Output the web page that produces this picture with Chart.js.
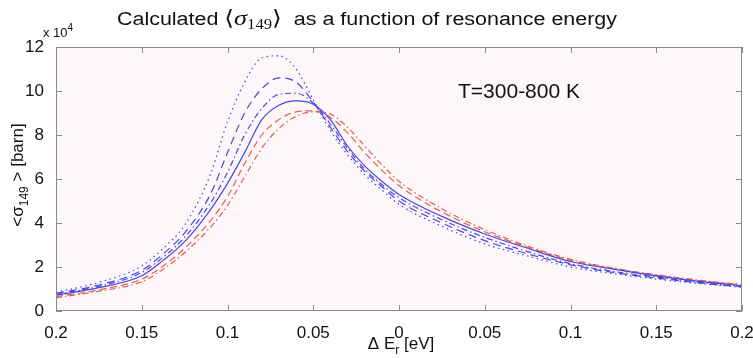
<!DOCTYPE html>
<html>
<head>
<meta charset="utf-8">
<script src="https://cdn.jsdelivr.net/npm/chart.js@4.4.1/dist/chart.umd.min.js"></script>
<style>
  html, body { margin: 0; padding: 0; background: #ffffff; }
  #wrap { width: 753px; height: 358px; position: relative; }
</style>
</head>
<body>
<div id="wrap"><canvas id="c" width="753" height="358"></canvas></div>
<script>
// ---- data (x in eV, y in units of 1e4 barn) ----
const dE = [-0.2, -0.175, -0.15, -0.1375, -0.125, -0.11, -0.1, -0.09, -0.08, -0.07, -0.06, -0.05, -0.04, -0.03, -0.02, -0.01, 0, 0.025, 0.05, 0.075, 0.1, 0.125, 0.15, 0.175, 0.2];
const sigDotted  = [0.85, 1.3, 2.05, 2.85, 3.9, 6.2, 8.6, 10.4, 11.5, 11.6, 11.0, 9.6, 8.2, 7.1, 6.2, 5.5, 4.85, 3.85, 3.05, 2.5, 2.0, 1.7, 1.45, 1.25, 1.08];
const sigDashA   = [0.8, 1.18, 1.85, 2.6, 3.55, 5.3, 7.2, 9.0, 10.1, 10.6, 10.4, 9.5, 8.35, 7.25, 6.35, 5.65, 5.0, 4.0, 3.2, 2.6, 2.1, 1.75, 1.5, 1.28, 1.1];
const sigDashB   = [0.76, 1.12, 1.75, 2.45, 3.35, 4.9, 6.3, 8.0, 9.2, 9.85, 9.9, 9.45, 8.5, 7.4, 6.45, 5.75, 5.15, 4.15, 3.35, 2.7, 2.15, 1.8, 1.55, 1.3, 1.12];
const sigSolid   = [0.72, 1.06, 1.6, 2.3, 3.15, 4.6, 5.8, 7.2, 8.7, 9.35, 9.55, 9.4, 8.7, 7.5, 6.6, 5.9, 5.3, 4.3, 3.5, 2.85, 2.25, 1.9, 1.6, 1.35, 1.15];
const sigRedDash = [0.65, 0.96, 1.45, 2.05, 2.85, 4.1, 5.2, 6.7, 8.0, 8.7, 9.05, 9.1, 8.8, 8.1, 7.2, 6.4, 5.7, 4.5, 3.6, 2.9, 2.3, 1.92, 1.62, 1.38, 1.18];
const sigRedDot  = [0.6, 0.9, 1.33, 1.9, 2.65, 3.8, 4.8, 6.1, 7.4, 8.3, 8.85, 9.05, 8.95, 8.35, 7.5, 6.65, 5.9, 4.65, 3.7, 2.95, 2.35, 1.95, 1.65, 1.4, 1.2];
const xTicks = [-0.2, -0.15, -0.1, -0.05, 0, 0.05, 0.1, 0.15, 0.2];
const xTickLabels = ['0.2', '0.15', '0.1', '0.05', '0', '0.05', '0.1', '0.15', '0.2'];
const yTicks = [0, 2, 4, 6, 8, 10, 12];

const BLUE = '#4646e0';
const RED = '#e2604c';

function pts(arr) { return dE.map((x, i) => ({ x: x, y: arr[i] })); }
function ds(arr, color, dash, w) {
  return { data: pts(arr), borderColor: color, borderWidth: w || 1.2, borderDash: dash,
           pointRadius: 0, fill: false, cubicInterpolationMode: 'monotone' };
}

const SANS = '"Liberation Sans", Arial, sans-serif';
const SERIF = '"Liberation Serif", "DejaVu Serif", serif';

function drawRuns(ctx, runs, x, y) {
  let cx = x;
  for (const r of runs) {
    ctx.font = r.font;
    ctx.fillText(r.t, cx, y + (r.dy || 0));
    cx += ctx.measureText(r.t).width;
  }
  return cx - x;
}
function runsWidth(ctx, runs) {
  let w = 0;
  for (const r of runs) { ctx.font = r.font; w += ctx.measureText(r.t).width; }
  return w;
}

const decor = {
  id: 'decor',
  beforeDraw(chart) {
    const { ctx, chartArea: a } = chart;
    ctx.save();
    ctx.fillStyle = '#fdf7fa';
    ctx.fillRect(a.left, a.top, a.right - a.left, a.bottom - a.top);
    ctx.restore();
  },
  afterDraw(chart) {
    const { ctx, chartArea: a } = chart;
    const xs = chart.scales.x, ys = chart.scales.y;
    ctx.save();
    // box
    ctx.strokeStyle = '#8a8a8a';
    ctx.lineWidth = 1;
    ctx.strokeRect(a.left + 0.5, a.top + 0.5, a.right - a.left - 1, a.bottom - a.top - 1);
    // inward ticks
    ctx.beginPath();
    for (const v of xTicks) {
      const px = Math.round(xs.getPixelForValue(v)) + 0.5;
      ctx.moveTo(px, a.bottom); ctx.lineTo(px, a.bottom - 6);
      ctx.moveTo(px, a.top); ctx.lineTo(px, a.top + 6);
    }
    for (const v of yTicks) {
      const py = Math.round(ys.getPixelForValue(v)) + 0.5;
      ctx.moveTo(a.left, py); ctx.lineTo(a.left + 6, py);
      ctx.moveTo(a.right, py); ctx.lineTo(a.right - 6, py);
    }
    ctx.stroke();

    ctx.fillStyle = '#111';
    ctx.textBaseline = 'alphabetic';
    // title, stretched horizontally to the reference span
    const title = [
      { t: 'Calculated ', font: '18px ' + SANS },
      { t: '\u27E8', font: '21px ' + SERIF },
      { t: '\u03C3', font: 'italic 22px ' + SERIF },
      { t: '149', font: '14px ' + SERIF, dy: 4 },
      { t: '\u27E9', font: '21px ' + SERIF },
      { t: '  as a function of resonance energy', font: '18px ' + SANS }
    ];
    const tw = runsWidth(ctx, title);
    ctx.save();
    ctx.translate(117, 25);
    ctx.scale(500 / tw, 1);
    drawRuns(ctx, title, 0, 0);
    ctx.restore();
    // x 10^4
    drawRuns(ctx, [{ t: 'x 10', font: '13px ' + SANS }, { t: '4', font: '10px ' + SANS, dy: -6 }], 43, 37);
    // annotation
    ctx.font = '21px ' + SANS;
    ctx.fillText('T=300-800 K', 458, 98);
    // x label
    const xl = [
      { t: '\u0394 E', font: '17px ' + SANS },
      { t: 'r', font: '12px ' + SANS, dy: 5 },
      { t: ' [eV]', font: '17px ' + SANS }
    ];
    const xw = runsWidth(ctx, xl);
    drawRuns(ctx, xl, 401 - xw / 2, 349);
    // y label (rotated)
    const yl = [
      { t: '<\u03C3', font: '17px ' + SANS },
      { t: '149', font: '12px ' + SANS, dy: 5 },
      { t: ' > [barn]', font: '17px ' + SANS }
    ];
    const yw = runsWidth(ctx, yl);
    ctx.translate(23, 175);
    ctx.rotate(-Math.PI / 2);
    drawRuns(ctx, yl, -yw / 2, 0);
    ctx.restore();
  }
};

new Chart(document.getElementById('c'), {
  type: 'line',
  data: {
    datasets: [
      ds(sigDotted, BLUE, [1.5, 3.5]),
      ds(sigDashA, BLUE, [8, 5]),
      ds(sigDashB, BLUE, [6, 3, 1.5, 3]),
      ds(sigSolid, BLUE, []),
      ds(sigRedDash, RED, [7, 4]),
      ds(sigRedDot, RED, [6, 3, 1.5, 3])
    ]
  },
  options: {
    responsive: false,
    animation: false,
    devicePixelRatio: 1,
    layout: { padding: { left: 0, top: 47, right: 11, bottom: 0 } },
    plugins: { legend: { display: false }, tooltip: { enabled: false }, title: { display: false } },
    scales: {
      x: {
        type: 'linear', min: -0.2, max: 0.2,
        grid: { display: false }, border: { display: false },
        afterBuildTicks(s) { s.ticks = xTicks.map(v => ({ value: v })); },
        ticks: {
          color: '#111', font: { family: SANS, size: 17 }, padding: 4, maxRotation: 0, autoSkip: false,
          callback(v) { const i = xTicks.findIndex(t => Math.abs(t - v) < 1e-9); return i >= 0 ? xTickLabels[i] : ''; }
        },
        afterFit(s) { s.height = 47; s.paddingLeft = 0; s.paddingRight = 0; }
      },
      y: {
        min: 0, max: 12,
        grid: { display: false }, border: { display: false },
        afterBuildTicks(s) { s.ticks = yTicks.map(v => ({ value: v })); },
        ticks: { color: '#111', font: { family: SANS, size: 17 }, padding: 4 },
        afterFit(s) { s.width = 56; s.paddingTop = 0; s.paddingBottom = 0; }
      }
    }
  },
  plugins: [decor]
});
</script>
</body>
</html>
